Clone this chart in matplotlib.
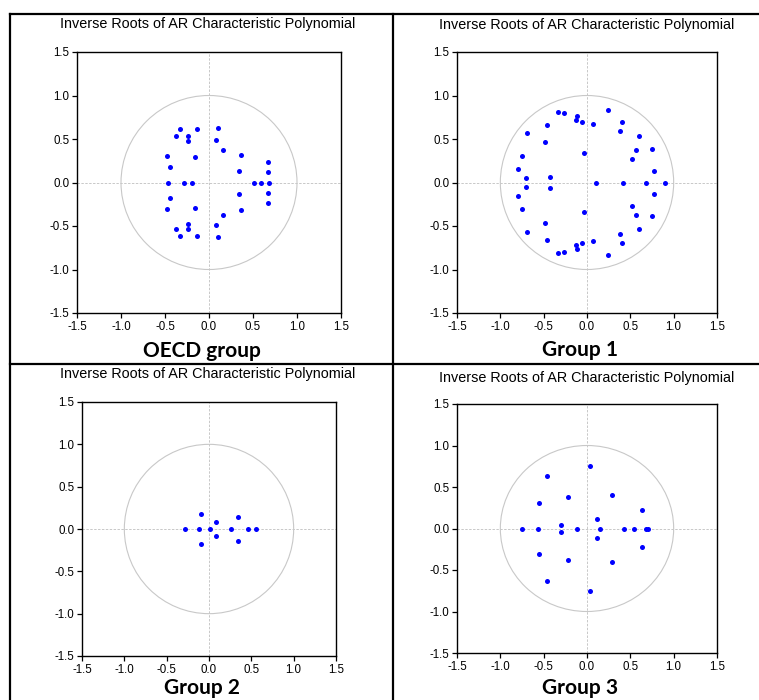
import matplotlib.pyplot as plt
from matplotlib.patches import Circle
from matplotlib.lines import Line2D

plt.rcParams['axes.unicode_minus'] = False
plt.rcParams['font.family'] = ['Liberation Sans', 'DejaVu Sans']

oecd_re = [-0.33, -0.14, 0.10, -0.38, -0.24, -0.235, 0.08, 0.16, 0.36, -0.48, -0.16, -0.44, 0.665, 0.345, 0.665,
           -0.47, -0.285, -0.19, 0.51, 0.59, 0.68,
           -0.33, -0.14, 0.10, -0.38, -0.24, -0.235, 0.08, 0.16, 0.36, -0.48, -0.16, -0.44, 0.665, 0.345, 0.665]
oecd_im = [0.62, 0.62, 0.63, 0.53, 0.53, 0.48, 0.49, 0.37, 0.32, 0.31, 0.29, 0.18, 0.23, 0.13, 0.115,
           0.0, 0.0, 0.0, 0.0, 0.0, 0.0,
           -0.62, -0.62, -0.63, -0.53, -0.53, -0.48, -0.49, -0.37, -0.32, -0.31, -0.29, -0.18, -0.23, -0.13, -0.115]

g1_re = [-0.34, -0.26, -0.11, -0.13, -0.055, 0.073, 0.246, 0.40, 0.38, 0.60, -0.46, -0.69, -0.49, -0.035,
         0.565, 0.75, 0.515, -0.746, -0.80, 0.77, -0.70, -0.427,
         0.108, 0.415, 0.68, 0.896,
         -0.34, -0.26, -0.11, -0.13, -0.055, 0.073, 0.246, 0.40, 0.38, 0.60, -0.46, -0.69, -0.49, -0.035,
         0.565, 0.75, 0.515, -0.746, -0.80, 0.77, -0.70, -0.427]
g1_im = [0.81, 0.795, 0.77, 0.715, 0.69, 0.67, 0.835, 0.70, 0.59, 0.53, 0.665, 0.57, 0.46, 0.34,
         0.375, 0.38, 0.27, 0.30, 0.16, 0.135, 0.055, 0.065,
         0.0, 0.0, 0.0, 0.0,
         -0.81, -0.795, -0.77, -0.715, -0.69, -0.67, -0.835, -0.70, -0.59, -0.53, -0.665, -0.57, -0.46, -0.34,
         -0.375, -0.38, -0.27, -0.30, -0.16, -0.135, -0.055, -0.065]

g2_re = [-0.094, 0.079, 0.338, -0.28, -0.118, 0.012, 0.256, 0.456, 0.55, -0.094, 0.079, 0.338]
g2_im = [0.177, 0.087, 0.145, 0.0, 0.0, 0.0, 0.0, 0.0, 0.0, -0.177, -0.087, -0.145]

g3_re = [0.031, -0.458, -0.223, 0.288, -0.554, 0.63, 0.115, -0.304,
         -0.746, -0.56, -0.115, 0.146, 0.423, 0.542, 0.685, 0.70,
         0.031, -0.458, -0.223, 0.288, -0.554, 0.63, 0.115, -0.304]
g3_im = [0.754, 0.638, 0.377, 0.40, 0.305, 0.225, 0.112, 0.048,
         0.0, 0.0, 0.0, 0.0, 0.0, 0.0, 0.0, 0.0,
         -0.754, -0.638, -0.377, -0.40, -0.305, -0.225, -0.112, -0.048]

ticks = [-1.5, -1.0, -0.5, 0.0, 0.5, 1.0, 1.5]
tick_labels = ['-1.5', '-1.0', '-0.5', '0.0', '0.5', '1.0', '1.5']
title = 'Inverse Roots of AR Characteristic Polynomial'

W, H = 759, 700
fig = plt.figure(figsize=(W / 100, H / 100), dpi=100)


def px_axes(l, r, t, b):
    return fig.add_axes([l / W, 1 - b / H, (r - l) / W, (b - t) / H])


panels = [
    # data, axes box (px), title pos, label, label pos
    (oecd_re, oecd_im, (77, 341, 52, 313), (208, 28), 'OECD group', (202, 357)),
    (g1_re, g1_im, (457, 717, 52, 313), (587, 29), 'Group 1', (580, 356)),
    (g2_re, g2_im, (82, 336, 402, 656), (208, 378), 'Group 2', (202, 694)),
    (g3_re, g3_im, (457, 717, 404, 653), (587, 382), 'Group 3', (580, 694)),
]

for re, im, box, tpos, label, lpos in panels:
    ax = px_axes(*box)
    ax.add_patch(Circle((0, 0), 1, fill=False, ec='#c8c8c8', lw=0.8, zorder=1))
    ax.axhline(0, color='#c8c8c8', ls=(0, (2.5, 1.5)), lw=0.7, zorder=1)
    ax.axvline(0, color='#c8c8c8', ls=(0, (2.5, 1.5)), lw=0.7, zorder=1)
    ax.scatter(re, im, s=13, color='#0000ff', linewidths=0, zorder=3)
    ax.set_xlim(-1.5, 1.5)
    ax.set_ylim(-1.5, 1.5)
    ax.set_xticks(ticks)
    ax.set_xticklabels(tick_labels)
    ax.set_yticks(ticks)
    ax.set_yticklabels(tick_labels)
    ax.tick_params(direction='out', length=3.5, width=0.9, labelsize=8.3, pad=2,
                   top=False, right=False, colors='black')
    for sp in ax.spines.values():
        sp.set_linewidth(1.0)
    fig.text(tpos[0] / W, 1 - tpos[1] / H, title, ha='center', va='baseline', fontsize=10.4)
    fig.text(lpos[0] / W, 1 - lpos[1] / H, label, ha='center', va='baseline',
             fontsize=15, fontweight='bold', family=['Lato', 'DejaVu Sans'])

# table grid lines round the four panels
for xs, ys in [((10, 759), (14, 14)), ((10, 759), (364, 364)),
               ((10, 10), (14, 700)), ((393, 393), (14, 700))]:
    fig.add_artist(Line2D([x / W for x in xs], [1 - y / H for y in ys], color='black', lw=1.6))

fig.savefig('out.png', dpi=100)
